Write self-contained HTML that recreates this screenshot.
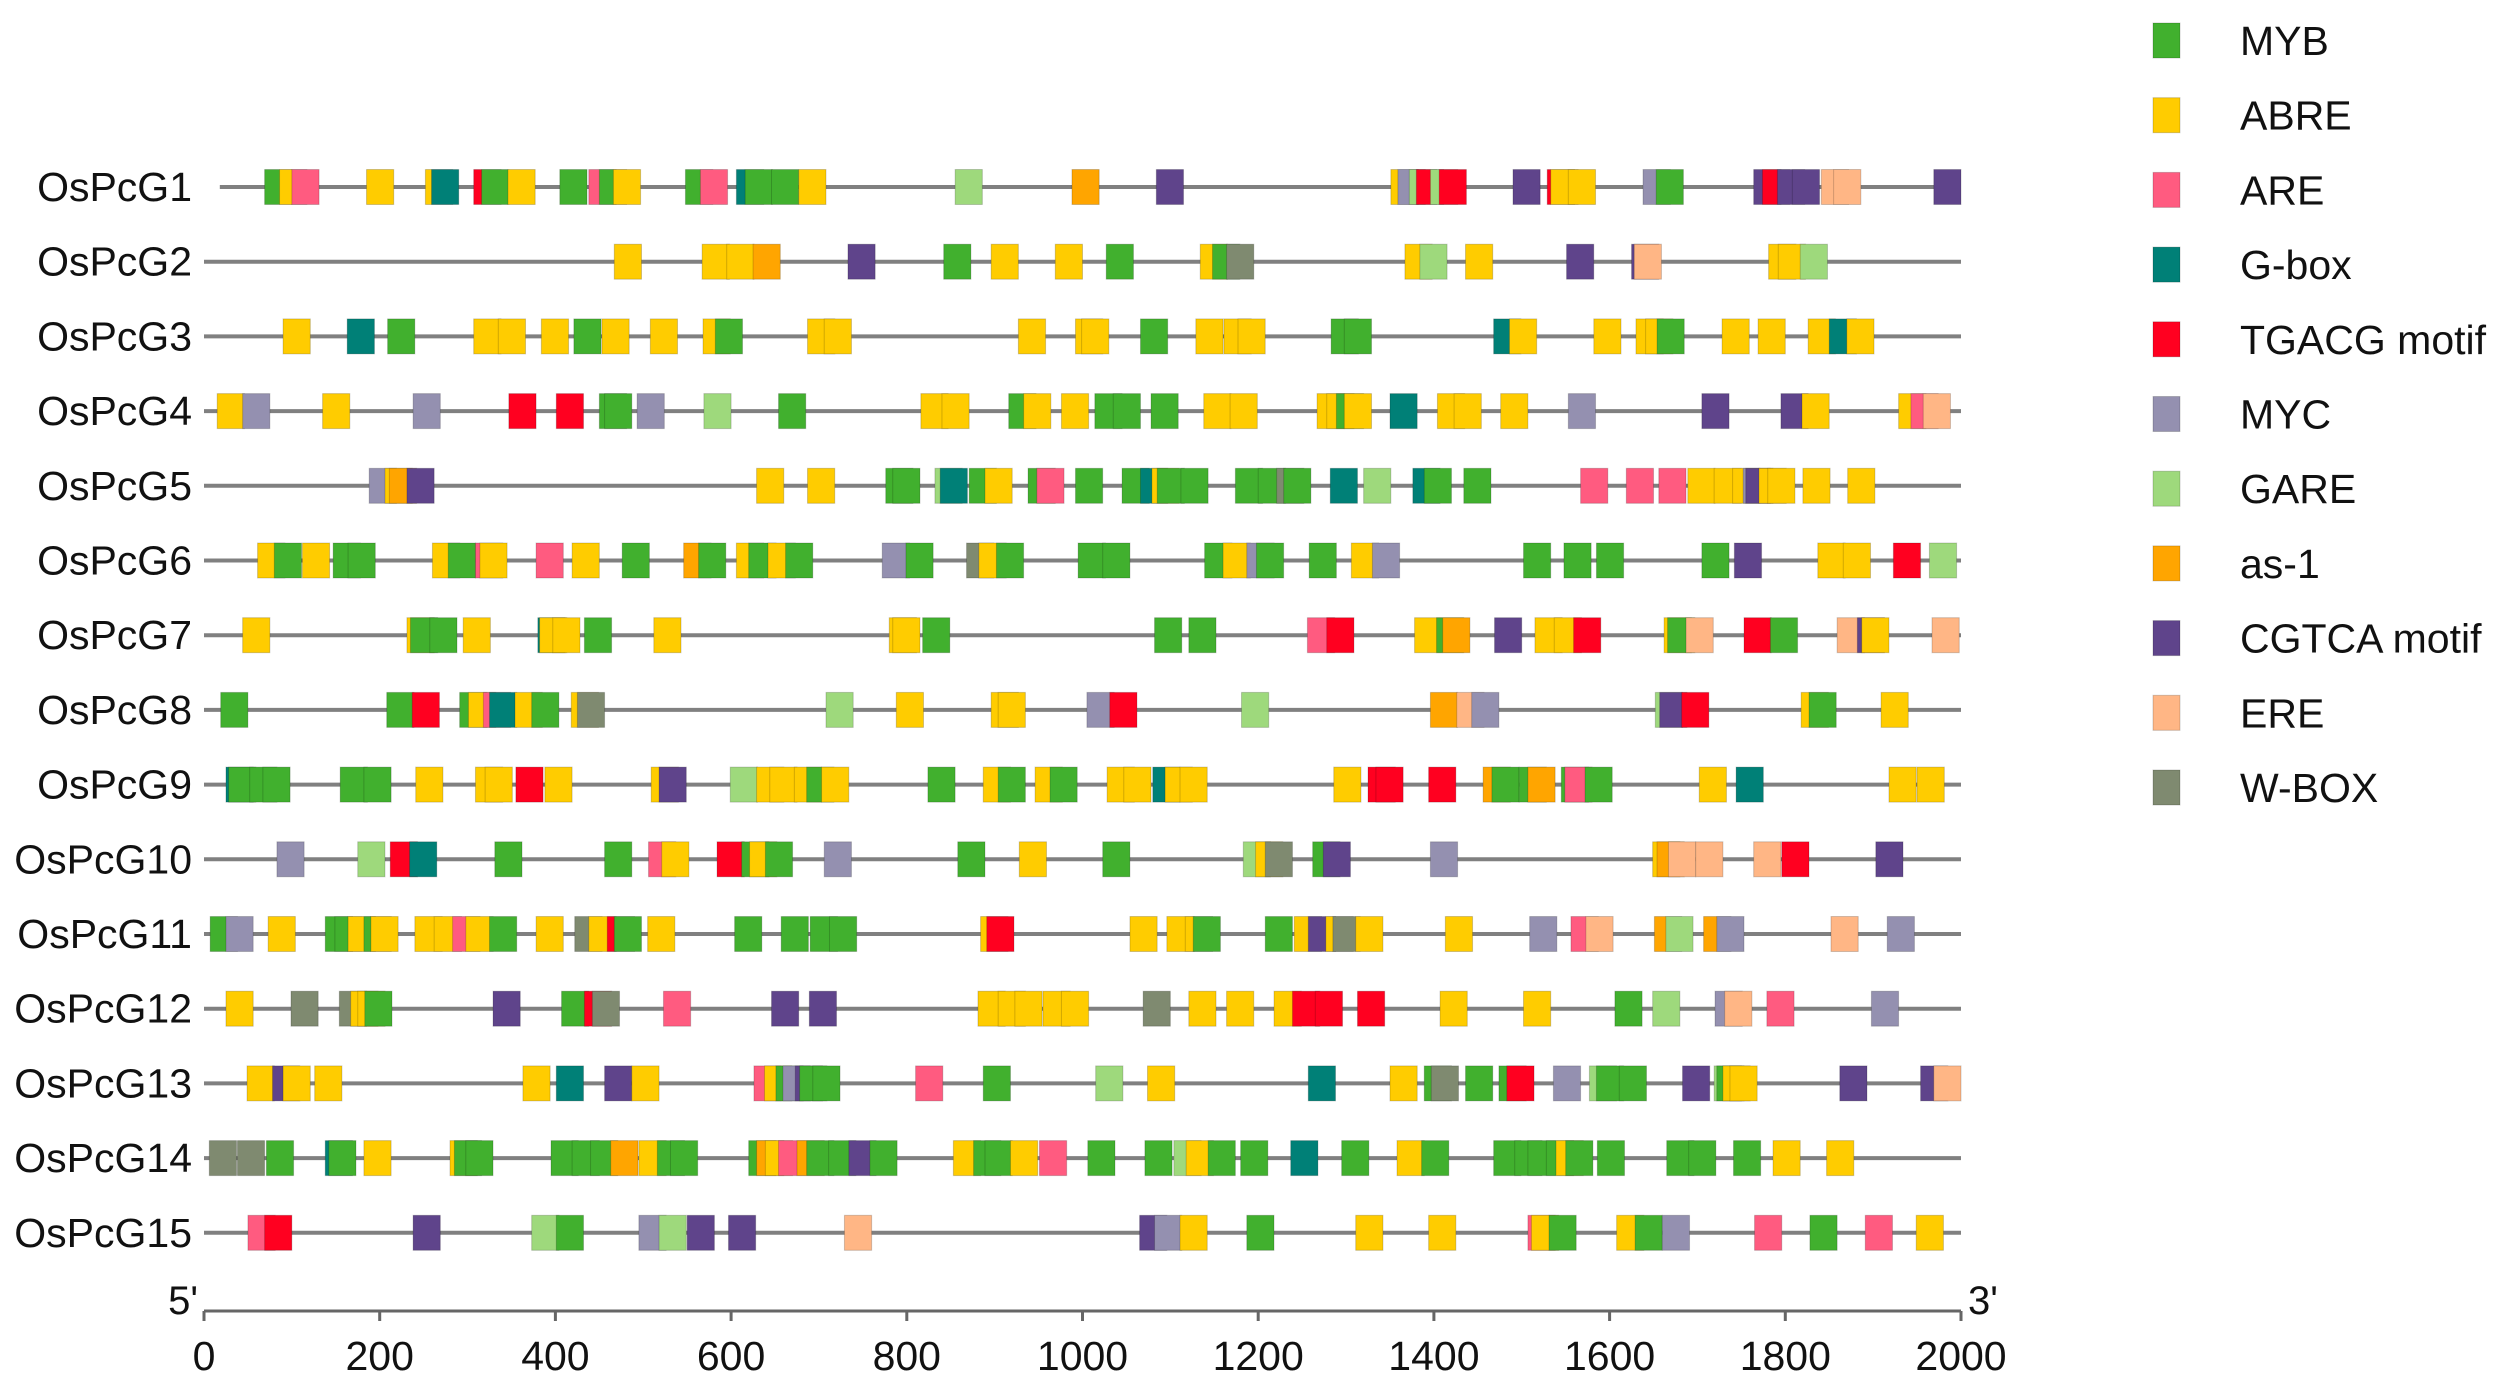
<!DOCTYPE html>
<html><head><meta charset="utf-8">
<style>
html,body{margin:0;padding:0;background:#fff;}
svg{display:block;font-family:"Liberation Sans",Arial,sans-serif;}
</style></head>
<body>
<svg id="chart" width="2510" height="1398" viewBox="0 0 2510 1398" xmlns="http://www.w3.org/2000/svg">
<g id="rows"></g>
<g id="axis"></g>
<g id="legend"></g>
</svg>
<script>
const geneNames = ["OsPcG1","OsPcG2","OsPcG3","OsPcG4","OsPcG5","OsPcG6","OsPcG7","OsPcG8","OsPcG9","OsPcG10","OsPcG11","OsPcG12","OsPcG13","OsPcG14","OsPcG15"];
const typeCodes = ["M","A","R","X","T","Y","N","S","C","E","W"];
const typeLabels = ["MYB","ABRE","ARE","G-box","TGACG motif","MYC","GARE","as-1","CGTCA motif","ERE","W-BOX"];
const typeColors = ["#41b02e","#ffcc00","#ff5b80","#008077","#ff0020","#9490b0","#9ed97c","#ffa500","#5f448b","#ffb685","#7f8a70"];
const tickValues = [0,200,400,600,800,1000,1200,1400,1600,1800,2000];
const elemPos = [
[69,86,100,185,252,259,307,316,346,405,438,450,466,548,565,606,616,646,677,855,988,1084,1351,1359,1372,1380,1396,1406,1490,1529,1533,1553,1638,1653,1764,1774,1791,1808,1841,1855,1969],
[467,567,595,625,733,842,896,969,1027,1134,1148,1164,1367,1384,1436,1551,1625,1628,1781,1792,1817],
[90,163,209,307,335,384,421,453,508,568,582,687,706,927,992,999,1066,1129,1161,1177,1283,1298,1468,1486,1582,1630,1641,1654,1728,1769,1826,1850,1870],
[15,44,135,238,347,401,450,456,493,569,654,816,840,916,933,976,1014,1035,1078,1138,1168,1267,1278,1289,1298,1350,1404,1423,1476,1553,1705,1795,1819,1929,1943,1957],
[188,206,211,231,629,687,776,784,832,838,871,889,938,948,992,1045,1066,1079,1085,1112,1174,1200,1221,1229,1282,1320,1376,1389,1434,1567,1619,1656,1689,1719,1740,1752,1755,1770,1780,1820,1871],
[61,80,112,147,164,260,278,309,314,378,419,476,546,563,606,620,642,662,772,799,868,882,902,995,1023,1139,1160,1187,1198,1258,1306,1330,1502,1548,1585,1705,1742,1837,1866,1923,1964],
[44,231,235,257,295,380,382,397,433,512,780,784,818,1082,1121,1256,1278,1378,1403,1410,1469,1515,1537,1559,1662,1666,1687,1753,1783,1859,1882,1887,1967],
[19,208,237,291,301,318,325,354,373,418,425,708,788,896,904,1005,1031,1181,1396,1426,1443,1652,1657,1682,1818,1827,1909],
[25,28,52,67,155,182,241,309,320,355,388,509,518,599,629,644,672,686,703,824,887,904,946,963,1028,1047,1080,1094,1111,1286,1325,1334,1394,1456,1466,1497,1507,1545,1549,1572,1702,1744,1918,1950],
[83,175,212,234,331,456,506,521,584,612,621,639,706,858,928,1023,1183,1197,1208,1262,1274,1396,1649,1654,1667,1698,1764,1796,1903],
[7,25,73,138,149,164,182,190,240,262,283,298,325,378,422,438,459,467,505,604,657,690,712,884,891,1054,1096,1117,1126,1208,1241,1257,1277,1285,1311,1413,1509,1556,1573,1651,1664,1707,1722,1852,1916],
[25,99,154,167,175,183,329,407,433,442,523,646,689,881,904,923,955,976,1069,1121,1164,1218,1239,1265,1313,1407,1502,1606,1649,1720,1731,1779,1898],
[49,78,90,126,363,401,456,487,626,638,651,659,673,678,693,810,887,1015,1074,1257,1350,1389,1397,1436,1474,1483,1536,1577,1585,1611,1683,1719,1722,1729,1737,1862,1954,1969],
[6,38,71,138,142,182,280,285,298,395,419,440,463,495,516,531,620,629,639,654,675,686,711,734,758,853,876,889,918,951,1006,1071,1104,1118,1143,1180,1237,1295,1358,1386,1468,1492,1507,1528,1539,1550,1586,1665,1690,1741,1786,1847],
[50,69,238,373,401,495,518,550,597,729,1065,1082,1111,1187,1311,1394,1507,1511,1531,1608,1629,1660,1765,1828,1891,1949]
];
const elemType = [
"MARAAXTMAMRMAMRXMMANSCAYNTNTCTAAYMCTCCEEC",
"AAASCMAAMAMWANACCEAAN",
"AXMAAAMAAAMAAAAAMAAAMMXAAAAMAAAXA",
"AYAYTTMMYNMAAMAAMMMAAAAMAXAAAYCCAARE",
"YASCAAMMNXMAMRMMXAMMMMWMXNXMMRRRAAAYCAAAA",
"AMAMMAMRARAMSMAMAMYMWAMMMMAYMMAYMMMMCAATN",
"AAMMAXAAMAAAMMMRTAMSCAATAMETMECAE",
"MMTMARXAMAWNAAAYTNSEYNCTAMA",
"XMMMMMAAATAACNAAAMAMAMAMAAXAAATTTSMMSMRMAXAA",
"YNTXMMRATMAMYMAMNAWMCYASEEETC",
"MYAMMAMAAARAMAWATMAMMMMATAAAMMACAWAAYRESNSYEY",
"AWWAAMCMTWRCCAAAAAWAAATTTAAMNYERY",
"ACAAAXCARAMYCMMRMNAXAMWMMTYNMMCNMAACCE",
"WWMXMAAMMMMMSAMMMSARSMMCMAMMARMMNAMMXMAMMMMMAMMMMMAAMM",
"RTCNMYNCCECYAMAARAMAMYRMRA"
];
</script>
<script>
const NS = "http://www.w3.org/2000/svg";
const X0 = 204, X1 = 1961, DMAX = 2000;
const ROW0 = 187, ROWSTEP = 74.7;
const BOXW = 31, BOXH = 35;
function xScale(v){ return X0 + v*(X1-X0)/DMAX; }
function yRow(i){ return ROW0 + i*ROWSTEP; }
function colorOf(code){ const k = typeCodes.indexOf(code); return k>=0 ? typeColors[k] : typeColors[1]; }
function mk(tag, attrs, parent){ const e = document.createElementNS(NS, tag); for (const k in attrs) e.setAttribute(k, attrs[k]); parent.appendChild(e); return e; }

const rowsG = document.getElementById('rows');
geneNames.forEach(function(name, i){
  const g = mk('g', {}, rowsG);
  
  
  const y = yRow(i);
  const ln = mk('line', {x1: xScale(i === 0 ? 18 : 0), x2: xScale(DMAX), y1: y, y2: y, stroke: '#808080', 'stroke-width': 4}, g);
  
  
  const lbl = mk('text', {x: 192, y: y + 14, 'text-anchor': 'end', 'font-size': 41, fill: '#111'}, g);
  lbl.textContent = name;
  
  
  const pos = elemPos[i], types = elemType[i];
  pos.forEach(function(p, j){
    const code = types.charAt(j) || 'A';
    const r = mk('rect', {x: xScale(p), y: y - BOXH/2, width: BOXW*(X1-X0)/DMAX, height: BOXH, fill: colorOf(code), stroke: 'rgba(0,0,0,0.18)', 'stroke-width': 1}, g);
    
    
  });
});

const axG = document.getElementById('axis');
const AY = 1311;
const axl = mk('line', {x1: X0, x2: X1, y1: AY, y2: AY, stroke: '#666', 'stroke-width': 3}, axG);


tickValues.forEach(function(t){
  const tk = mk('line', {x1: xScale(t), x2: xScale(t), y1: AY, y2: AY + 10, stroke: '#666', 'stroke-width': 3}, axG);
  
  
  const tl = mk('text', {x: xScale(t), y: AY + 59, 'text-anchor': 'middle', 'font-size': 41, fill: '#111'}, axG);
  tl.textContent = String(t);
  
  
});
const p5 = mk('text', {x: 198, y: 1314, 'text-anchor': 'end', 'font-size': 40, fill: '#111'}, axG);
p5.textContent = "5'";


const p3 = mk('text', {x: 1968, y: 1314, 'text-anchor': 'start', 'font-size': 40, fill: '#111'}, axG);
p3.textContent = "3'";



const lgG = document.getElementById('legend');
typeLabels.forEach(function(lab, k){
  const y = 40 + k*74.7;
  const e = mk('g', {}, lgG);
  
  
  const sw = mk('rect', {x: 2153, y: y - 17, width: 27, height: 35, fill: typeColors[k], stroke: 'rgba(0,0,0,0.18)', 'stroke-width': 1}, e);
  
  
  const tx = mk('text', {x: 2240, y: y + 15, 'font-size': 41, fill: '#111'}, e);
  tx.textContent = lab;
  
  
});
</script>
</body></html>
